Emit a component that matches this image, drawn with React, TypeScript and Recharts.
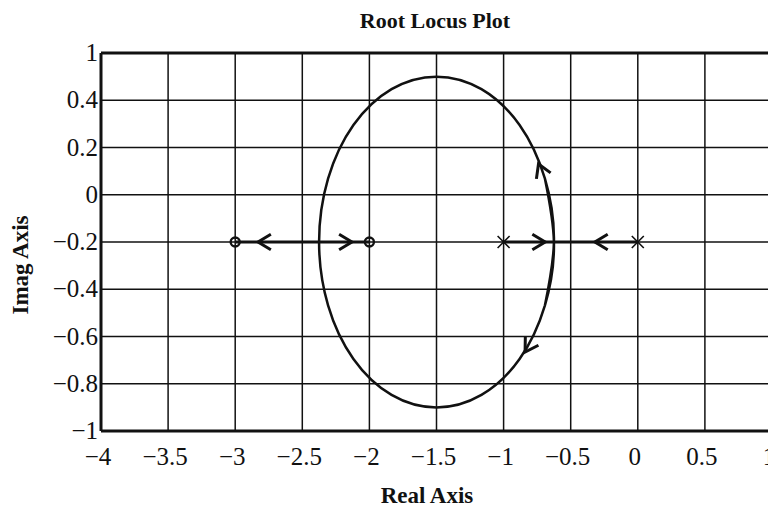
import React from 'react';
import {
  ComposedChart,
  XAxis,
  YAxis,
  CartesianGrid,
  Line,
  Scatter,
  ReferenceLine,
} from 'recharts';

// Axis ticks and their printed labels
const xTicks = [-4, -3.5, -3, -2.5, -2, -1.5, -1, -0.5, 0, 0.5, 1];
const xTickLabels = ['−4', '−3.5', '−3', '−2.5', '−2', '−1.5', '−1', '−0.5', '0', '0.5', '1'];
const yTicks = [-1, -0.8, -0.6, -0.4, -0.2, 0, 0.2, 0.4, 0.6];
const yTickLabels = ['−1', '−0.8', '−0.6', '−0.4', '−0.2', '0', '0.2', '0.4', '1'];

// Open-loop poles (x) and zeros (o)
const poles = [
  { re: -1, im: -0.2 },
  { re: 0, im: -0.2 },
];
const zeros = [
  { re: -3, im: -0.2 },
  { re: -2, im: -0.2 },
];

// Real-axis locus segments
const segmentLeft = [
  { re: -3, im: -0.2 },
  { re: -2, im: -0.2 },
];
const segmentRight = [
  { re: -1, im: -0.2 },
  { re: 0, im: -0.2 },
];

// Complex branches: closed loop between break-away and break-in points
// (the loop overlaps itself a little so the spline has no seam)
const complexLoop = [
  { re: -0.692, im: -0.468 },
  { re: -0.625, im: -0.2 },
  { re: -0.692, im: 0.068 },
  { re: -0.881, im: 0.295 },
  { re: -1.165, im: 0.447 },
  { re: -1.5, im: 0.5 },
  { re: -1.835, im: 0.447 },
  { re: -2.119, im: 0.295 },
  { re: -2.308, im: 0.068 },
  { re: -2.375, im: -0.2 },
  { re: -2.308, im: -0.468 },
  { re: -2.119, im: -0.695 },
  { re: -1.835, im: -0.847 },
  { re: -1.5, im: -0.9 },
  { re: -1.165, im: -0.847 },
  { re: -0.881, im: -0.695 },
  { re: -0.692, im: -0.468 },
  { re: -0.625, im: -0.2 },
  { re: -0.692, im: 0.068 },
];

// Direction arrows along the locus (dir: screen angle in degrees)
const arrows = [
  { re: -2.83, im: -0.2, dir: 180 },
  { re: -2.13, im: -0.2, dir: 0 },
  { re: -0.69, im: -0.2, dir: 0 },
  { re: -0.32, im: -0.2, dir: 180 },
  { re: -0.74, im: 0.13, dir: -113 },
  { re: -0.84, im: -0.666, dir: 122 },
];

const FONT = '"Liberation Serif", "Times New Roman", serif';
const INK = '#111';
const TICK_SIZE = 25;

const PoleMark = (props: any) => {
  const { cx, cy } = props;
  const s = 6;
  return (
    <path
      d={`M${cx - s},${cy - s}L${cx + s},${cy + s}M${cx - s},${cy + s}L${cx + s},${cy - s}`}
      stroke={INK}
      strokeWidth={1.6}
      fill="none"
    />
  );
};

const ZeroMark = (props: any) => {
  const { cx, cy } = props;
  return <circle cx={cx} cy={cy} r={4.5} stroke={INK} strokeWidth={2.4} fill="none" />;
};

const ArrowMark = (props: any) => {
  const { cx, cy, payload } = props;
  const len = 15;
  const half = (31 * Math.PI) / 180;
  const bx = -len * Math.cos(half);
  const by = len * Math.sin(half);
  return (
    <path
      transform={`translate(${cx},${cy}) rotate(${payload.dir})`}
      d={`M${bx},${-by}L0,0L${bx},${by}`}
      stroke={INK}
      strokeWidth={3}
      strokeLinejoin="miter"
      fill="none"
    />
  );
};

const XTick = (props: any) => {
  const { x, y, payload } = props;
  const i = xTicks.indexOf(payload.value);
  return (
    <text
      x={x - 3}
      y={y + 34}
      textAnchor="middle"
      fontFamily={FONT}
      fontSize={TICK_SIZE}
      fill={INK}
    >
      {i >= 0 ? xTickLabels[i] : String(payload.value)}
    </text>
  );
};

const YTick = (props: any) => {
  const { x, y, payload } = props;
  const i = yTicks.indexOf(payload.value);
  return (
    <text
      x={x}
      y={y + 8}
      textAnchor="end"
      fontFamily={FONT}
      fontSize={TICK_SIZE}
      fill={INK}
    >
      {i >= 0 ? yTickLabels[i] : String(payload.value)}
    </text>
  );
};

export default function App() {
  return (
    <div
      style={{
        position: 'fixed',
        left: 0,
        top: 0,
        width: 768,
        height: 514,
        overflow: 'hidden',
        background: '#fff',
        fontFamily: FONT,
        color: INK,
      }}
    >
      <div
        style={{
          position: 'absolute',
          left: 435,
          top: 21,
          transform: 'translate(-50%, -50%)',
          fontWeight: 'bold',
          fontSize: 22,
          whiteSpace: 'nowrap',
        }}
      >
        Root Locus Plot
      </div>
      <div
        style={{
          position: 'absolute',
          left: 427,
          top: 496,
          transform: 'translate(-50%, -50%)',
          fontWeight: 'bold',
          fontSize: 23,
          whiteSpace: 'nowrap',
        }}
      >
        Real Axis
      </div>
      <div
        style={{
          position: 'absolute',
          left: 21,
          top: 265,
          transform: 'translate(-50%, -50%) rotate(-90deg)',
          fontWeight: 'bold',
          fontSize: 23,
          whiteSpace: 'nowrap',
        }}
      >
        Imag Axis
      </div>
      <div style={{ position: 'absolute', left: 0, top: 0 }}>
        <ComposedChart
          width={800}
          height={514}
          margin={{ top: 53, right: 28, left: 11, bottom: 43 }}
        >
          <CartesianGrid stroke={INK} strokeWidth={1.5} />
          <XAxis
            dataKey="re"
            type="number"
            domain={[-4, 1]}
            ticks={xTicks}
            height={40}
            tickSize={0}
            tickMargin={0}
            tickLine={false}
            axisLine={{ stroke: INK, strokeWidth: 3 }}
            tick={XTick}
            interval={0}
            allowDataOverflow
          />
          <YAxis
            dataKey="im"
            type="number"
            domain={[-1, 0.6]}
            ticks={yTicks}
            width={90}
            tickSize={0}
            tickMargin={3}
            tickLine={false}
            axisLine={{ stroke: INK, strokeWidth: 3 }}
            tick={YTick}
            interval={0}
            allowDataOverflow
          />
          <ReferenceLine y={0.6} stroke={INK} strokeWidth={3} />
          <ReferenceLine x={1} stroke={INK} strokeWidth={3} />
          <Line
            data={complexLoop}
            dataKey="im"
            type="natural"
            stroke={INK}
            strokeWidth={2.5}
            dot={false}
            activeDot={false}
            isAnimationActive={false}
          />
          <Line
            data={segmentLeft}
            dataKey="im"
            type="linear"
            stroke={INK}
            strokeWidth={3}
            dot={false}
            activeDot={false}
            isAnimationActive={false}
          />
          <Line
            data={segmentRight}
            dataKey="im"
            type="linear"
            stroke={INK}
            strokeWidth={3}
            dot={false}
            activeDot={false}
            isAnimationActive={false}
          />
          <Scatter data={arrows} dataKey="im" shape={ArrowMark} isAnimationActive={false} />
          <Scatter data={zeros} dataKey="im" shape={ZeroMark} isAnimationActive={false} />
          <Scatter data={poles} dataKey="im" shape={PoleMark} isAnimationActive={false} />
        </ComposedChart>
      </div>
    </div>
  );
}
